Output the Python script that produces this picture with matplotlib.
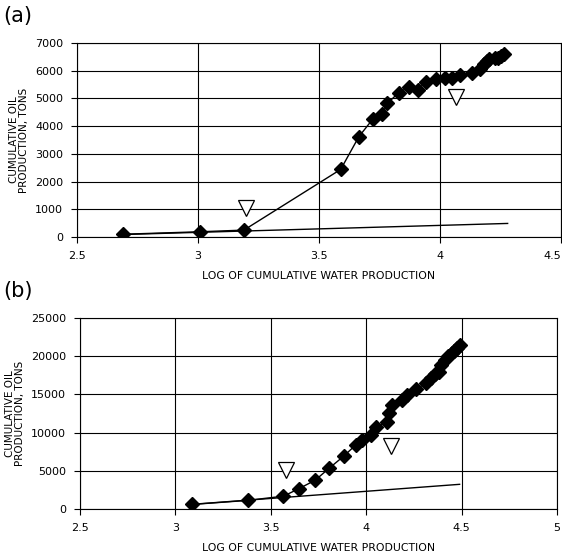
import matplotlib
matplotlib.use("Agg")
import matplotlib.pyplot as plt

# panel (a)
a_x = [2.69, 3.01, 3.19, 3.59, 3.665, 3.723, 3.762, 3.783, 3.83, 3.872, 3.908,
       3.942, 3.984, 4.02, 4.05, 4.084, 4.131, 4.166, 4.183, 4.195, 4.204,
       4.226, 4.24, 4.252, 4.265]
a_y = [100, 190, 250, 2440, 3620, 4260, 4440, 4820, 5215, 5410, 5300,
       5610, 5710, 5730, 5750, 5840, 5920, 6080, 6260, 6350, 6430,
       6450, 6460, 6520, 6600]
a_trend_x = [2.69, 4.28]
a_trend_y = [90, 490]
a_tri_x = [3.2, 4.065]
a_tri_y = [1030, 5060]

# panel (b)
b_x = [3.09, 3.38, 3.567, 3.648, 3.734, 3.805, 3.883, 3.945, 3.977, 4.025,
       4.051, 4.11, 4.122, 4.134, 4.186, 4.216, 4.264, 4.316, 4.339, 4.36,
       4.38, 4.395, 4.413, 4.43, 4.448, 4.463, 4.475, 4.49]
b_y = [600, 1130, 1680, 2660, 3780, 5300, 6920, 8360, 9060, 9670,
       10680, 11420, 12510, 13600, 14260, 14910, 15740, 16440, 17160, 17600,
       17950, 18780, 19540, 19950, 20350, 20700, 21000, 21450]
b_trend_x = [3.09, 4.49]
b_trend_y = [620, 3230]
b_tri_x = [3.58, 4.128]
b_tri_y = [5150, 8250]

ylabel = "CUMULATIVE OIL\nPRODUCTION, TONS"
xlabel = "LOG OF CUMULATIVE WATER PRODUCTION"

fig = plt.figure(figsize=(5.62, 5.59), dpi=100)
axa = fig.add_axes([0.137, 0.576, 0.861, 0.347])
axb = fig.add_axes([0.142, 0.0894, 0.849, 0.342])


def style(ax, xlim, xticks, ylim, yticks):
    ax.set_xlim(*xlim)
    ax.set_ylim(*ylim)
    ax.set_xticks(xticks)
    ax.set_yticks(yticks)
    ax.set_xticklabels([("%g" % t) for t in xticks])
    ax.grid(True, color="black", linewidth=0.8)
    ax.set_axisbelow(True)
    for s in ax.spines.values():
        s.set_linewidth(0.8)
    ax.tick_params(direction="out", length=4, width=0.8, labelsize=8, pad=6)
    ax.set_xlabel(xlabel, fontsize=7.8, labelpad=7)
    ax.set_ylabel(ylabel, fontsize=7.5, labelpad=4, linespacing=1.0)


axa.plot(a_x, a_y, color="black", linewidth=1, marker="D", markersize=7)
axa.plot(a_trend_x, a_trend_y, color="black", linewidth=1)
axa.plot(a_tri_x, a_tri_y, linestyle="none", marker="v", markersize=11,
         markerfacecolor="white", markeredgecolor="black", markeredgewidth=0.9)
style(axa, (2.5, 4.5), [2.5, 3, 3.5, 4, 4.5], (0, 7000), range(0, 7001, 1000))
# last tick label sits on the figure edge
axa.get_xticklabels()[-1].set_horizontalalignment("right")

axb.plot(b_x, b_y, color="black", linewidth=1, marker="D", markersize=7)
axb.plot(b_trend_x, b_trend_y, color="black", linewidth=1)
axb.plot(b_tri_x, b_tri_y, linestyle="none", marker="v", markersize=11,
         markerfacecolor="white", markeredgecolor="black", markeredgewidth=0.9)
style(axb, (2.5, 5), [2.5, 3, 3.5, 4, 4.5, 5], (0, 25000), range(0, 25001, 5000))

fig.text(0.005, 0.99, "(a)", fontsize=15, va="top", ha="left")
fig.text(0.005, 0.497, "(b)", fontsize=15, va="top", ha="left")

fig.savefig("out.png", dpi=100)
